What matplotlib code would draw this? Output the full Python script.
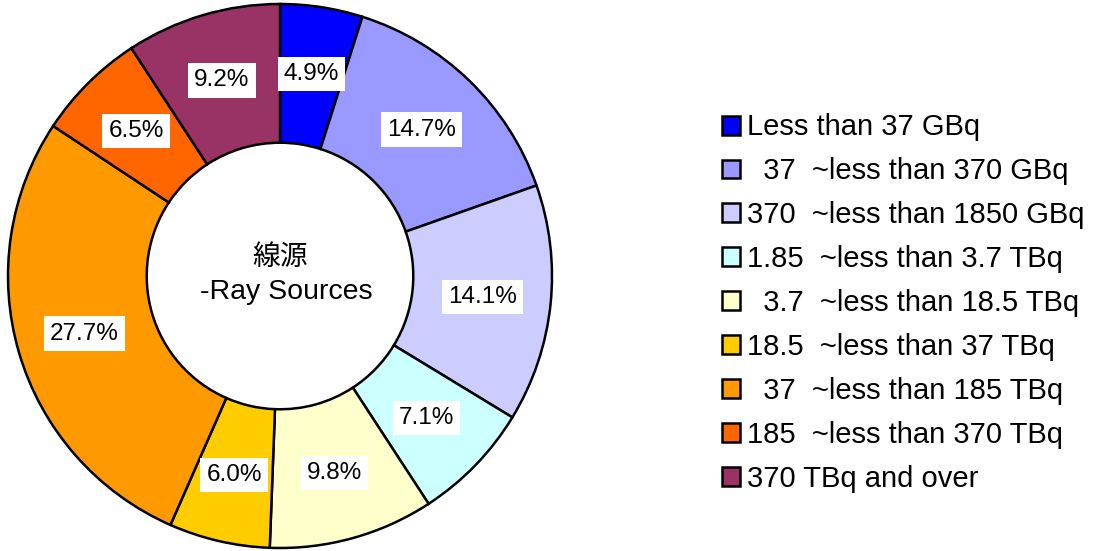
import matplotlib.pyplot as plt

plt.rcParams['font.family'] = ['Liberation Sans', 'Noto Sans CJK JP', 'DejaVu Sans']

# Data
categories = ['Less than 37 GBq', '  37  ~less than 370 GBq', '370  ~less than 1850 GBq',
              '1.85  ~less than 3.7 TBq', '  3.7  ~less than 18.5 TBq', '18.5  ~less than 37 TBq',
              '  37  ~less than 185 TBq', '185  ~less than 370 TBq', '370 TBq and over']
shares = [4.9, 14.7, 14.1, 7.1, 9.8, 6.0, 27.7, 6.5, 9.2]
colors = ['#0000FF', '#9999FF', '#CCCCFF', '#CCFFFF', '#FFFFCC', '#FFCC00', '#FF9900', '#FF6600', '#993366']

W, H = 1105, 551
fig = plt.figure(figsize=(W / 100, H / 100), dpi=100)
cx, cy, R = 280, 276, 272
ax = fig.add_axes([(cx - R) / W, (H - cy - R) / H, 2 * R / W, 2 * R / H])

wedges, texts, autotexts = ax.pie(
    shares, colors=colors, startangle=90, counterclock=False, radius=1.0,
    autopct='%.1f%%', pctdistance=0.75,
    wedgeprops=dict(width=0.51, edgecolor='black', linewidth=1.8),
    textprops=dict(fontsize=17.5, color='black'))
for t in autotexts:
    t.set_bbox(dict(boxstyle='square,pad=0.25', facecolor='white', edgecolor='none'))

ax.text(0.0, 0.066, '線源', ha='center', va='center', fontsize=20)
ax.text(0.022, -0.06, '-Ray Sources', ha='center', va='center', fontsize=20.5)
ax.set_xlim(-1, 1)
ax.set_ylim(-1, 1)
ax.set_aspect('equal')
ax.axis('off')

fig.legend(wedges, categories, loc='center left', bbox_to_anchor=(722 / W, 1 - 303 / H),
           frameon=False, fontsize=21, handlelength=0.62, handleheight=0.62,
           handletextpad=0.25, labelspacing=0.545, borderpad=0, borderaxespad=0)

fig.savefig('out.png', dpi=100)
